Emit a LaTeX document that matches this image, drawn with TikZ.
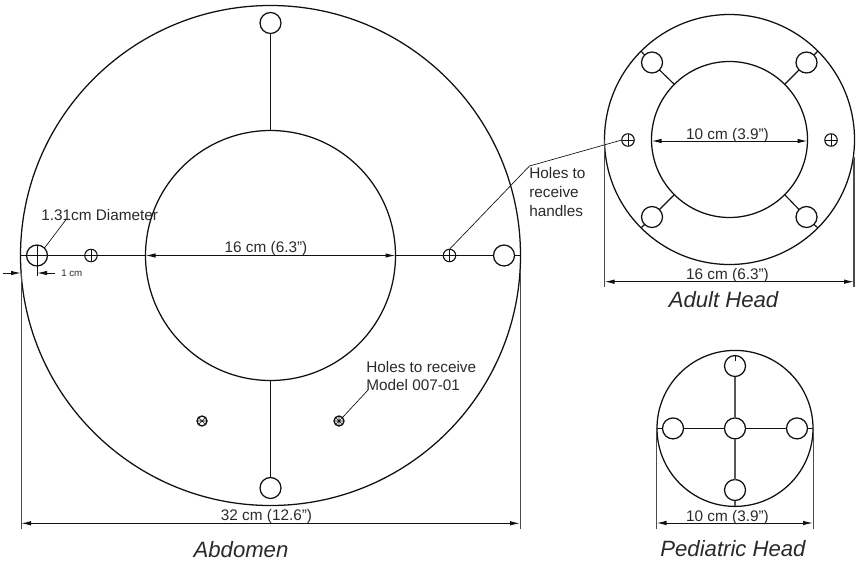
\documentclass[tikz,border=0pt]{standalone}
\usepackage{fontspec}
\setmainfont{Liberation Sans}
\usetikzlibrary{arrows.meta}
\definecolor{ink}{HTML}{111111}
\definecolor{txt}{HTML}{2A2A2A}
\tikzset{
  x=0.75pt,y=-0.75pt,
  ring/.style={circle,draw=ink,line width=0.95pt,inner sep=0pt,outer sep=0pt,minimum size=#1*0.75pt},
  hole/.style={ring=21},
  smallhole/.style={circle,draw=ink,line width=0.8pt,inner sep=0pt,outer sep=0pt,minimum size=12.5*0.75pt},
  tinyhole/.style={circle,draw=ink,line width=1pt,inner sep=0pt,outer sep=0pt,minimum size=10*0.75pt},
  link/.style={draw=ink,line width=0.85pt},
  greylink/.style={draw=ink!70,line width=1.1pt},
  thin line/.style={draw=ink,line width=0.5pt},
  ext/.style={draw=ink!75,line width=0.65pt},
  dim/.style={draw=ink,line width=0.75pt,{Latex[length=10*0.75pt,width=4.5*0.75pt]}-{Latex[length=10*0.75pt,width=4.5*0.75pt]}},
  lead/.style={draw=ink,line width=0.75pt,-{Latex[length=10*0.75pt,width=4.5*0.75pt]}},
  lbl/.style={text=txt,font=\fontsize{11.5}{13}\selectfont,inner sep=0pt,anchor=base},
  note/.style={text=txt,font=\fontsize{11.5}{14}\selectfont,inner sep=0pt,anchor=base west},
  caption/.style={text=txt,font=\fontsize{16.6}{18}\itshape\selectfont,inner sep=0pt,anchor=base},
}
\begin{document}
\begin{tikzpicture}
\useasboundingbox (0,0) rectangle (856,564);
% ---- Abdomen
\node[ring=500] (abOuter) at (270.5,255.5) {};
\node[ring=250] (abInner) at (270.5,255.5) {};
\node[hole] (abTop) at (270.5,23) {};
\node[hole] (abBot) at (270.5,488) {};
\node[hole] (abL) at (37,255.5) {};
\node[hole] (abR) at (504,255.5) {};
\node[smallhole] (abLs) at (91,255.5) {};
\node[smallhole] (abRs) at (449.5,255.5) {};
\node[tinyhole] (abM1) at (202,421) {};
\node[tinyhole] (abM2) at (339,421) {};
\draw[link] (abTop.south)--(abInner.north);
\draw[link] (abBot.north)--(abInner.south);
\draw[link] (abOuter.west)--(abL.west);
\draw[link] (abL.east)--(abLs.west);
\draw[link] (abLs.east)--(abInner.west);
\draw[link] (abInner.east)--(abRs.west);
\draw[link] (abRs.east)--(abR.west);
\draw[link] (abR.east)--(abOuter.east);
\draw[thin line] (abL.west)--(abL.east);
\draw[thin line] (abLs.north)--(abLs.south) (abLs.west)--(abLs.east);
\draw[thin line] (abRs.north)--(abRs.south) (abRs.west)--(abRs.east);
\draw[thin line] (abM1.north west)--(abM1.south east) (abM1.north east)--(abM1.south west) (abM1.west)--(abM1.east);
\draw[thin line] (abM2.north west)--(abM2.south east) (abM2.north east)--(abM2.south west) (abM2.west)--(abM2.east) (abM2.north)--(abM2.south);
\coordinate (tickEnd) at (37,276);
\draw[thin line] (abL.north)--(tickEnd);
% dimensions
\coordinate (d1a) at (21,523.3); \coordinate (d1b) at (520,523.3);
\coordinate (e1a) at (21,270); \coordinate (e1af) at (21,529);
\coordinate (e1b) at (520,270); \coordinate (e1bf) at (520,529);
\draw[ext] (e1a)--(e1af); \draw[ext] (e1b)--(e1bf);
\draw[dim] (d1a)--(d1b);
\draw[dim] (abInner.west)--(abInner.east);
\coordinate (oneA) at (3,273); \coordinate (oneB) at (21,273);
\draw[lead] (oneA)--(oneB);
\coordinate (twoA) at (55,273); \coordinate (twoB) at (37,273);
\draw[lead] (twoA)--(twoB);
\node[lbl,anchor=base west,font=\fontsize{7.3}{9}\selectfont] (oneCm) at (61,276) {1 cm};
\node[lbl] (abDimIn) at (266,252.7) {16 cm (6.3”)};
\node[lbl] (abDimOut) at (266.5,520.7) {32 cm (12.6”)};
\node[note] (dia) at (41,220) {1.31cm Diameter};
\coordinate (diaFoot) at (66.5,219);
\draw[thin line] (abL.north east)--(diaFoot);
\node[note] (hh1) at (529,178) {Holes to};
\node[note] (hh2) at (529,197.5) {receive};
\node[note] (hh3) at (529,216) {handles};
\coordinate (hhKnee) at (529.5,166);
\node[note] (m1) at (366,372) {Holes to receive};
\node[note] (m2) at (366,390) {Model 007-01};
\coordinate (mFoot) at (368,390);
\draw[thin line] (abM2.north east)--(mFoot);
\node[caption] (capAb) at (241,557) {Abdomen};
% ---- Adult head
\node[ring=250] (adOuter) at (729.5,139.5) {};
\node[ring=156] (adInner) at (729.5,139.5) {};
\node[hole] (ad1) at (652,62.5) {};
\node[hole] (ad2) at (806.5,62.5) {};
\node[hole] (ad3) at (652,217) {};
\node[hole] (ad4) at (806.5,217) {};
\node[smallhole] (adL) at (628,140) {};
\node[smallhole] (adR) at (831,140) {};
\foreach \n/\a/\b in {ad1/south east/135,ad2/south west/45,ad3/north east/225,ad4/north west/315}
  \draw[link] (\n.\a)--(adInner.\b);
\draw[link] (ad1.north west)--(adOuter.135);
\draw[link] (ad2.north east)--(adOuter.45);
\draw[link] (ad3.south west)--(adOuter.225);
\draw[link] (ad4.south east)--(adOuter.315);
\draw[thin line] (adL.north)--(adL.south) (adL.west)--(adL.east);
\draw[thin line] (adR.north)--(adR.south) (adR.west)--(adR.east);
\draw[thin line] (abRs.north)--(hhKnee)--(adL.west);
\coordinate (d4a) at (651.5,141); \coordinate (d4b) at (807.5,141);
\draw[dim] (d4a)--(d4b);
\coordinate (e2a) at (604.5,140); \coordinate (e2af) at (604.5,287);
\coordinate (e2b) at (854,157); \coordinate (e2bf) at (854,287);
\draw[ext] (e2a)--(e2af); \draw[ext,line width=0.9pt] (e2b)--(e2bf);
\coordinate (d2a) at (604.5,281.7); \coordinate (d2b) at (854,281.7);
\draw[dim] (d2a)--(d2b);
\node[lbl] (adDimIn) at (727.5,139) {10 cm (3.9”)};
\node[lbl] (adDimOut) at (727.5,279) {16 cm (6.3”)};
\node[caption] (capAd) at (723.5,307) {Adult Head};
% ---- Pediatric head
\node[ring=156] (pdOuter) at (735,428.4) {};
\node[hole] (pdC) at (735,428.4) {};
\node[hole] (pdT) at (735,366) {};
\node[hole] (pdB) at (735,490) {};
\node[hole] (pdL) at (673,428.4) {};
\node[hole] (pdR) at (797,428.4) {};
\draw[link] (pdOuter.west)--(pdL.west);
\draw[link] (pdL.east)--(pdC.west);
\draw[link] (pdC.east)--(pdR.west);
\draw[link] (pdR.east)--(pdOuter.east);
\draw[greylink] (pdT.south)--(pdC.north);
\draw[greylink] (pdC.south)--(pdB.north);
\draw[greylink] (pdB.south)--(pdOuter.south);
\coordinate (pdTick) at (735,361);
\draw[thin line] (pdT.north)--(pdTick);
\coordinate (e3a) at (656.5,428); \coordinate (e3af) at (656.5,529);
\coordinate (e3b) at (813,428); \coordinate (e3bf) at (813,529);
\draw[ext] (e3a)--(e3af); \draw[ext] (e3b)--(e3bf);
\coordinate (d3a) at (656.5,523); \coordinate (d3b) at (813,523);
\draw[dim] (d3a)--(d3b);
\node[lbl] (pdDim) at (727.5,521) {10 cm (3.9”)};
\node[caption] (capPd) at (733,556.7) {Pediatric Head};
\end{tikzpicture}
\end{document}
